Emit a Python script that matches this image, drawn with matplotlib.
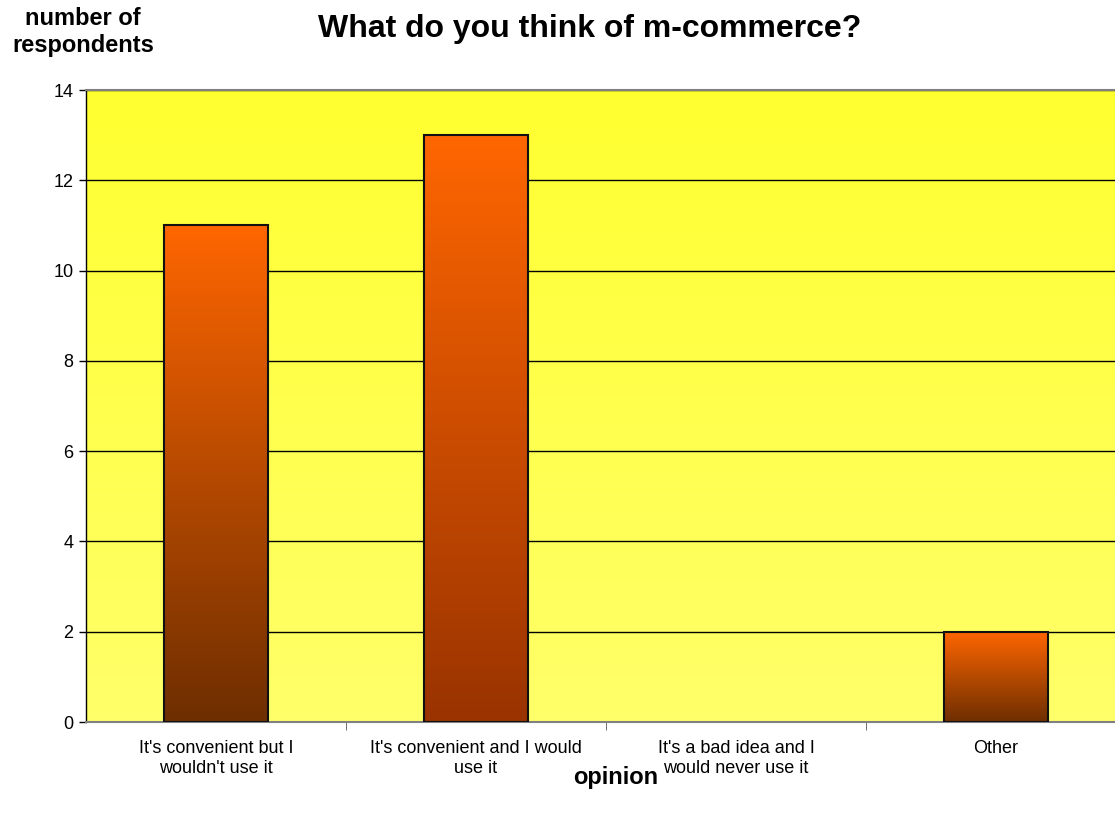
import matplotlib
matplotlib.use("Agg")
import matplotlib.pyplot as plt
import numpy as np
from matplotlib.colors import LinearSegmentedColormap

categories = ["It's convenient but I\nwouldn't use it",
              "It's convenient and I would\nuse it",
              "It's a bad idea and I\nwould never use it",
              "Other"]
values = [11, 13, 0, 2]
yticks = [0, 2, 4, 6, 8, 10, 12, 14]

bar_bottom_colors = ["#6E2E00", "#993300", "#6E2E00", "#6E2E00"]
bar_top_color = "#FF6600"

plt.rcParams['font.family'] = ['Liberation Sans', 'DejaVu Sans']

fig = plt.figure(figsize=(11.15, 8.21), dpi=100)
ax = fig.add_axes([86/1115, 99/821, 1040/1115, 632/821])

x = np.arange(len(categories))
ax.set_xlim(-0.5, len(categories) - 0.5)
ax.set_ylim(0, 14)

# background gradient
bg = LinearSegmentedColormap.from_list("bg", ["#FFFF6A", "#FFFF30"])
grad = np.linspace(0, 1, 256).reshape(-1, 1)
ax.imshow(grad, cmap=bg, aspect='auto', origin='lower',
          extent=[0, 1, 0, 1], transform=ax.transAxes, zorder=0)

ax.set_yticks(yticks)
ax.yaxis.grid(True, color='black', linewidth=1.0, zorder=1)
ax.set_axisbelow(True)

bars = ax.bar(x, values, width=0.4, facecolor='none', edgecolor='#111111',
              linewidth=1.5, zorder=3)
for b, bc in zip(bars, bar_bottom_colors):
    h = b.get_height()
    if h <= 0:
        b.set_linewidth(0)
        continue
    cmap = LinearSegmentedColormap.from_list("bar", [bc, bar_top_color])
    x0 = b.get_x()
    ax.imshow(grad, cmap=cmap, aspect='auto', origin='lower',
              extent=[x0, x0 + b.get_width(), 0, h], zorder=2)

ax.set_xticks(x)
ax.set_xticklabels(categories, fontsize=13, linespacing=1.2)
ax.set_xticks(x[:-1] + 0.5, minor=True)
ax.tick_params(axis='x', which='major', length=0, pad=13)
ax.tick_params(axis='x', which='minor', length=6, color='#555555', direction='out')
ax.tick_params(axis='y', length=5, width=1, color='black', labelsize=13, pad=4)

for s in ['top', 'bottom']:
    ax.spines[s].set_color('#808080')
    ax.spines[s].set_linewidth(1.5)
ax.spines['left'].set_color('black')
ax.spines['left'].set_linewidth(1.0)
ax.spines['right'].set_visible(False)

fig.text(590/1115, 1 - 29/821, "What do you think of m-commerce?",
         ha='center', va='center', fontsize=23, fontweight='bold')
fig.text(83/1115, 1 - 32/821, "number of\nrespondents",
         ha='center', va='center', fontsize=17, fontweight='bold', linespacing=1.2)
fig.text(616/1115, 1 - 777/821, "opinion",
         ha='center', va='center', fontsize=17, fontweight='bold')

fig.savefig("out.png", dpi=100)
